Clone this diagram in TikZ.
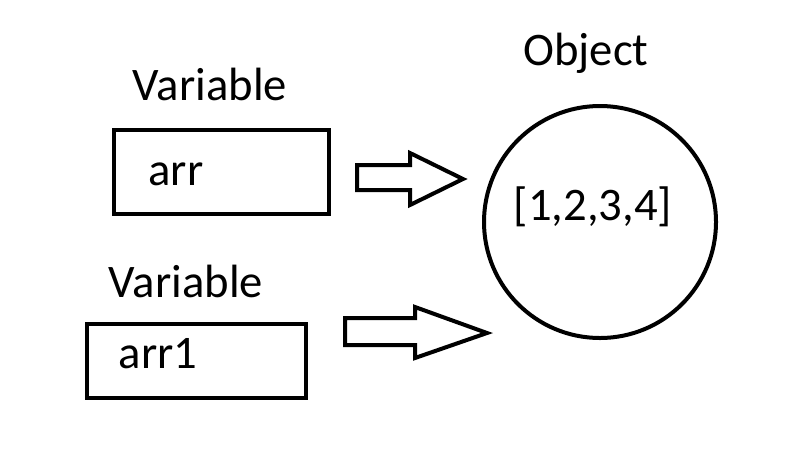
\documentclass[tikz,border=0pt]{standalone}
\usepackage{fontspec}
\setmainfont{Carlito}
\usetikzlibrary{calc}

\tikzset{
  lbl/.style={anchor=base,inner sep=0pt,font=\fontsize{35}{42}\selectfont},
  varbox/.style={draw,line width=3pt},
  blockarrow/.style={draw,line width=3pt,line join=miter}
}

\begin{document}
\begin{tikzpicture}[x=0.75pt,y=-0.75pt]
    \useasboundingbox (0,0) rectangle (791,461); % keeps the margins

    % the two variables
    \draw[varbox] (114,130) rectangle (329,214);
    \draw[varbox] (87,324) rectangle (306,398);
    \node[lbl] (var1) at (210,100) {Variable};
    \node[lbl] (var2) at (186,297) {Variable};
    \node[lbl] (arr) at (176,185) {arr};
    \node[lbl] (arr1) at (158,368) {arr1};

    % the object
    \node[draw,circle,line width=3pt,minimum size=232*0.75pt,inner sep=0pt] (obj) at (600,222) {};
    \node[lbl] (objlbl) at (586,65) {Object};
    \node[lbl] (vals) at (593,220) {[1,2,3,4]};

    % block arrows
    \draw[blockarrow] (357,165) -- (410,165) -- (410,153) -- (463,179) -- (410,205) -- (410,190) -- (357,190) -- cycle;
    \draw[blockarrow] (345,318) -- (415,318) -- (415,307) -- (487,333) -- (415,358) -- (415,345) -- (345,345) -- cycle;
\end{tikzpicture}
\end{document}
